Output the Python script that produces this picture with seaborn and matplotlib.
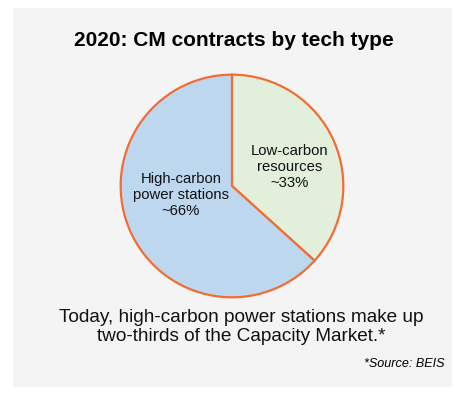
import matplotlib
matplotlib.use("Agg")
import matplotlib.pyplot as plt
import seaborn as sns
from matplotlib.patches import Rectangle

# slice shares as drawn in the picture (labels say ~33% / ~66%)
categories = ["Low-carbon\nresources\n~33%", "High-carbon\npower stations\n~66%"]
shares = [36.7, 63.3]
colors = ["#e2efda", "#bdd7ee"]

sns.set_theme(style="white")
plt.rcParams['font.family'] = ['Liberation Sans', 'DejaVu Sans']

fig = plt.figure(figsize=(4.61, 3.96), dpi=100)
fig.patch.set_facecolor("white")

# grey panel behind everything
fig.patches.append(Rectangle((13 / 461, 9 / 396), 439 / 461, 379 / 396,
                             transform=fig.transFigure, facecolor="#f4f4f4",
                             edgecolor="none", zorder=-5))

ax = fig.add_axes([119 / 461, 97 / 396, 226 / 461, 226 / 396])
ax.set_facecolor("none")
wedges, _ = ax.pie(shares, colors=colors, startangle=90, counterclock=False,
                   wedgeprops=dict(edgecolor="#f26d36", linewidth=1.6))
ax.set_xlim(-1.015, 1.015)
ax.set_ylim(-1.015, 1.015)
ax.set_aspect("equal")
ax.axis("off")

# slice labels
ax.text(0.52, 0.17, categories[0], ha="center", va="center", fontsize=10.7,
        color="#111111", linespacing=1.15)
ax.text(-0.46, -0.08, categories[1], ha="center", va="center", fontsize=10.7,
        color="#111111", linespacing=1.15)

fig.text(234 / 461, 1 - 40 / 396, "2020: CM contracts by tech type",
         ha="center", va="center", fontsize=15, fontweight="bold", color="black")
fig.text(241 / 461, 1 - 327 / 396,
         "Today, high-carbon power stations make up\ntwo-thirds of the Capacity Market.*",
         ha="center", va="center", fontsize=13.7, color="#111111", linespacing=1.15)
fig.text(444 / 461, 1 - 364 / 396, "*Source: BEIS", ha="right", va="center",
         fontsize=9.1, style="italic", color="black")

fig.savefig("out.png", dpi=100, facecolor="white")
